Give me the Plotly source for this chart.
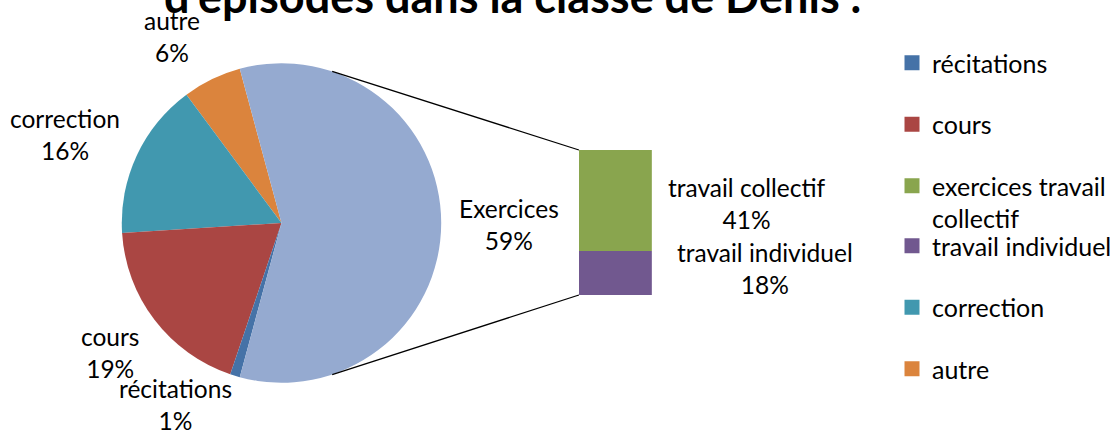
import math
import plotly.graph_objects as go

# ---- data ----
pie_labels = ["autre", "correction", "cours", "récitations", "Exercices"]
pie_values = [6, 16, 19, 1, 59]
bar_labels = ["travail individuel", "travail collectif"]
bar_values = [18, 41]
legend_names = ["récitations", "cours", "exercices travail<br>collectif",
                "travail individuel", "correction", "autre"]
title_text = "d'épisodes dans la classe de Denis ."

# ---- styles ----
pie_colors = ["#DB843D", "#4198AF", "#AA4643", "#4572A7", "#95AAD0"]
bar_colors = ["#71588F", "#89A54E"]
legend_colors = ["#4572A7", "#AA4643", "#89A54E", "#71588F", "#4198AF", "#DB843D"]
legend_ids = ["legend", "legend", "legend", "legend2", "legend2", "legend2"]
legend_groups = ["g1", "g2", "g3", "g4", "g5", "g6"]

W, H = 1117, 432
FONT = "Lato"
cx, cy, r = 282, 223, 160          # pie centre / radius in px
bar_x0, bar_x1 = 580, 653          # bar horizontal extent px
bar_top, bar_bot = 150, 295        # bar vertical extent px

fig = go.Figure()

total = sum(pie_values)
ex_deg = pie_values[-1] / total * 360
first_deg = pie_values[0] / total * 360
rotation = -(ex_deg / 2 - 90) - first_deg

fig.add_trace(go.Pie(
    labels=pie_labels, values=pie_values, sort=False,
    direction="counterclockwise", rotation=rotation,
    marker=dict(colors=pie_colors, line=dict(width=0)),
    textinfo="none", showlegend=False,
    domain=dict(x=[(cx - r) / W, (cx + r) / W],
                y=[(H - cy - r) / H, (H - cy + r) / H]),
))

for lab, val, col in zip(bar_labels, bar_values, bar_colors):
    fig.add_trace(go.Bar(x=[0], y=[val], name=lab,
                         marker=dict(color=col, line=dict(width=0)),
                         width=1, showlegend=False))

for name, col, grp, lg in zip(legend_names, legend_colors, legend_groups, legend_ids):
    fig.add_trace(go.Scatter(x=[None], y=[None], mode="markers", name=name,
                             legendgroup=grp, legend=lg,
                             marker=dict(symbol="square", size=15, color=col)))

xdom = [bar_x0 / W, bar_x1 / W]
ydom = [(H - bar_bot) / H, (H - bar_top) / H]
bar_total = sum(bar_values)

leg_common = dict(xanchor="left", yanchor="top", traceorder="grouped",
                  font=dict(family=FONT, size=25), tracegroupgap=26,
                  valign="top", bgcolor="rgba(0,0,0,0)")

fig.update_layout(
    width=W, height=H,
    margin=dict(l=0, r=0, t=0, b=0),
    paper_bgcolor="white", plot_bgcolor="white",
    barmode="stack", bargap=0,
    font=dict(family=FONT, size=24, color="#000000"),
    xaxis=dict(domain=xdom, range=[-0.5, 0.5], visible=False, fixedrange=True),
    yaxis=dict(domain=ydom, range=[0, bar_total], visible=False, fixedrange=True),
    legend=dict(x=0.800, y=(H - 40) / H, **leg_common),
    legend2=dict(x=0.800, y=(H - 223) / H, **leg_common),
)

# connector lines from pie to bar
ang = math.radians(71.5)
for sgn in (1, -1):
    px = cx + r * math.cos(ang)
    py = cy - sgn * r * math.sin(ang)
    fig.add_shape(type="line", xref="paper", yref="paper",
                  x0=px / W, y0=(H - py) / H, x1=xdom[0],
                  y1=ydom[1] if sgn == 1 else ydom[0],
                  line=dict(color="black", width=1.3))

# data labels
pie_pct = {l: v for l, v in zip(pie_labels, pie_values)}
label_pos = {"autre": (172, 36), "correction": (65, 134), "cours": (110, 352),
             "récitations": (176, 404), "Exercices": (510, 224)}
for lab, (x, y) in label_pos.items():
    fig.add_annotation(text=f"{lab}<br>{pie_pct[lab]}%", x=x / W, y=(H - y) / H,
                       xref="paper", yref="paper", showarrow=False,
                       xanchor="center", yanchor="middle",
                       font=dict(family=FONT, size=24.5), align="center")
bar_pos = {"travail collectif": (748, 203), "travail individuel": (766, 268)}
for lab, val in zip(bar_labels, bar_values):
    x, y = bar_pos[lab]
    fig.add_annotation(text=f"{lab}<br>{val}%", x=x / W, y=(H - y) / H,
                       xref="paper", yref="paper", showarrow=False,
                       xanchor="center", yanchor="middle",
                       font=dict(family=FONT, size=24.5), align="center")

# title (partially cut off at the top as in the reference)
fig.add_annotation(text=f"<b>{title_text}</b>", x=513 / W, y=(H + 4) / H,
                   xref="paper", yref="paper", showarrow=False,
                   xanchor="center", yanchor="middle",
                   font=dict(family=FONT, size=45))

fig.write_html("out.html", config={"displayModeBar": False},
               post_script="document.body.style.margin='0';document.body.style.padding='0';")
